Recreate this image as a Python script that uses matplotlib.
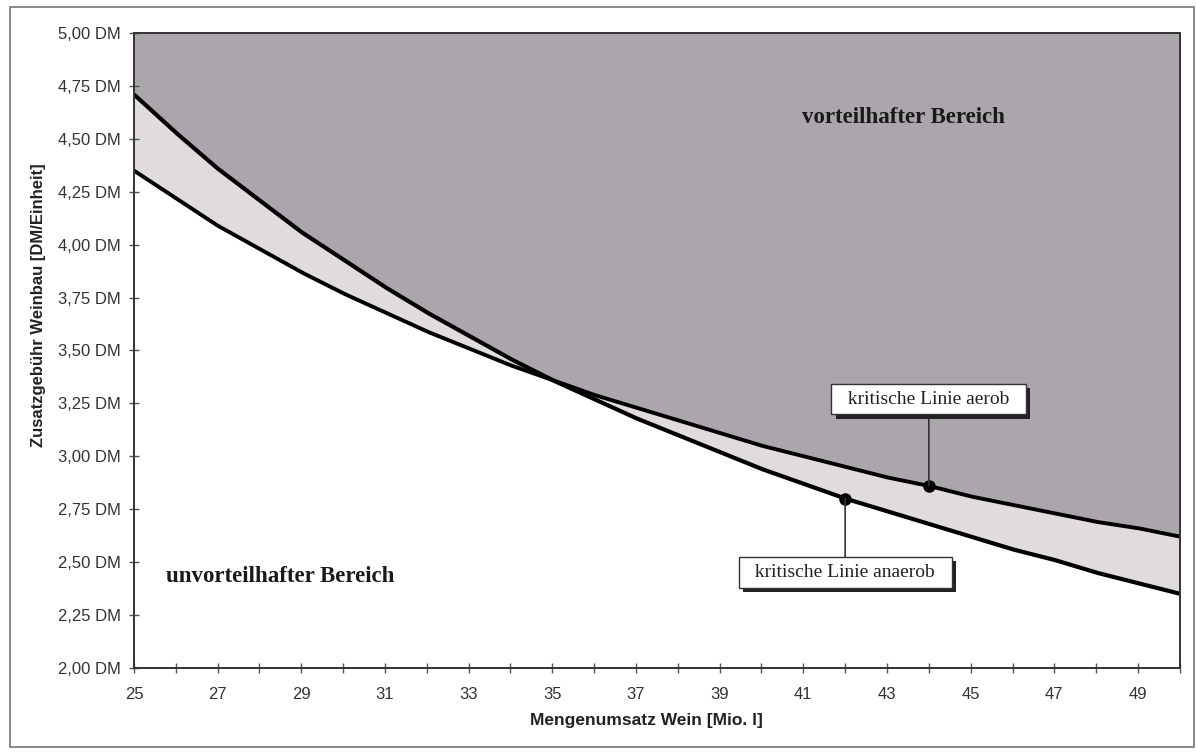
import matplotlib.pyplot as plt
import matplotlib.patches as patches
import matplotlib.patheffects as pe
import numpy as np

# Mengenumsatz Wein [Mio. l]
menge = np.arange(25, 51)

# kritische Linien, DM/Einheit
aerob = [4.35, 4.22, 4.09, 3.98, 3.87, 3.77, 3.68, 3.59, 3.51, 3.43,
         3.36, 3.29, 3.23, 3.17, 3.11, 3.05, 3.00, 2.95, 2.90, 2.86,
         2.81, 2.77, 2.73, 2.69, 2.66, 2.62]
anaerob = [4.71, 4.53, 4.36, 4.21, 4.06, 3.93, 3.80, 3.68, 3.57, 3.46,
           3.36, 3.27, 3.18, 3.10, 3.02, 2.94, 2.87, 2.80, 2.74, 2.68,
           2.62, 2.56, 2.51, 2.45, 2.40, 2.35]

y_ticks = [2.00, 2.25, 2.50, 2.75, 3.00, 3.25, 3.50, 3.75, 4.00, 4.25, 4.50, 4.75, 5.00]

# points that carry the labels
idx_aerob = 19    # 44 Mio. l
idx_anaerob = 17  # 42 Mio. l

aerob = np.asarray(aerob)
anaerob = np.asarray(anaerob)

# fine x grid so the filled regions follow the curves smoothly
xf = np.linspace(25, 50, 600)
af = np.interp(xf, menge, aerob)
nf = np.interp(xf, menge, anaerob)
upper = np.maximum(af, nf)
lower = np.minimum(af, nf)

fig = plt.figure(figsize=(11.96, 7.52), dpi=100)
ax = fig.add_axes([0.112, 0.112, 0.8745, 0.844])

sans = 'Liberation Sans'
serif = 'Liberation Serif'

# regions
ax.fill_between(xf, upper, 5.0, color='#aaa6ab', lw=0, zorder=1)
ax.fill_between(xf, lower, upper, color='#dfdbdf', lw=0, zorder=1)

# critical lines
ax.plot(xf, af, color='black', lw=2.8, zorder=3, solid_capstyle='butt')
ax.plot(xf, nf, color='black', lw=3.0, zorder=3, solid_capstyle='butt')

# labelled points
ax.plot(menge[idx_aerob], aerob[idx_aerob], 'o', color='black', ms=8, zorder=4)
ax.plot(menge[idx_anaerob], anaerob[idx_anaerob], 'o', color='black', ms=8, zorder=4)

def label_box(text, xy, ytext):
    t = ax.annotate('  ' + text + '  ', xy=xy, xytext=(xy[0], ytext), ha='center', va='center',
                    fontsize=14, family=serif, color='#222222',
                    bbox=dict(boxstyle='square,pad=0.35', fc='white', ec='#333333', lw=1),
                    arrowprops=dict(arrowstyle='-', color='#333333', lw=1.2,
                                    shrinkA=0, shrinkB=0),
                    zorder=6)
    t.get_bbox_patch().set_path_effects([
        pe.SimplePatchShadow(offset=(3, -3), shadow_rgbFace='#222222', alpha=1.0),
        pe.Normal()])

label_box('kritische Linie aerob', (menge[idx_aerob], aerob[idx_aerob]), 3.27)
label_box('kritische Linie anaerob', (menge[idx_anaerob], anaerob[idx_anaerob]), 2.45)

ax.text(43.4, 4.60, 'vorteilhafter Bereich', ha='center', va='center',
        fontsize=16.5, fontweight='bold', family=serif, color='#1a1a1a', zorder=5)
ax.text(28.5, 2.43, 'unvorteilhafter Bereich', ha='center', va='center',
        fontsize=16.5, fontweight='bold', family=serif, color='#1a1a1a', zorder=5)

ax.set_xlim(25, 50)
ax.set_ylim(2.0, 5.0)
ax.set_xticks(menge)
ax.set_xticklabels([str(v) if v % 2 == 1 and v < 50 else '' for v in menge])
ax.set_yticks(y_ticks)
ax.set_yticklabels([f'{v:.2f} DM'.replace('.', ',') for v in y_ticks])
ax.tick_params(direction='inout', length=7, width=1, color='#555555',
               labelsize=12, labelcolor='#333333')
ax.tick_params(axis='x', pad=10)
ax.tick_params(axis='y', pad=6)
for lab in ax.get_xticklabels() + ax.get_yticklabels():
    lab.set_family(sans)

for s in ax.spines.values():
    s.set_color('#333333')
    s.set_linewidth(1.4)
    s.set_zorder(7)

ax.set_xlabel('Mengenumsatz Wein [Mio. l]', fontsize=12.5, fontweight='bold',
              family=sans, color='#222222')
ax.set_ylabel('Zusatzgebühr Weinbau [DM/Einheit]', fontsize=12, fontweight='bold',
              family=sans, color='#222222')
ax.xaxis.set_label_coords(0.49, -0.072)
ax.yaxis.set_label_coords(-0.084, 0.572)

# outer chart frame
frame = patches.Rectangle((0.008, 0.006), 0.99, 0.985, transform=fig.transFigure,
                          fill=False, ec='#777777', lw=1.2)
fig.patches.append(frame)

fig.savefig('out.png', dpi=100)
